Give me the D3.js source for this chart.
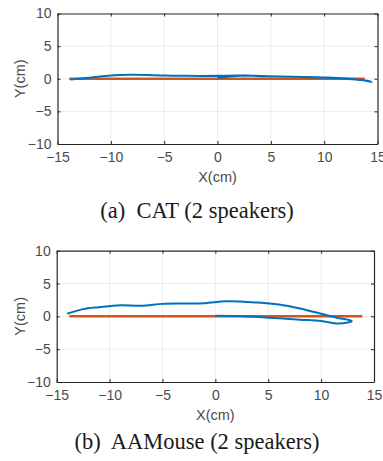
<!DOCTYPE html>
<html>
<head>
<meta charset="utf-8">
<script src="https://cdn.jsdelivr.net/npm/d3@7"></script>
<style>
  body { margin: 0; background: #fff; }
  svg { display: block; }
  .tick-label { font-family: "Liberation Sans", Arial, sans-serif; font-size: 14px; fill: #4a4a4a; }
  .axis-title { font-family: "Liberation Sans", Arial, sans-serif; font-size: 14.5px; fill: #4a4a4a; }
  .caption { font-family: "Liberation Serif", "Times New Roman", serif; font-size: 22.5px; fill: #1a1a1a; }
</style>
</head>
<body>
<div id="chart"></div>
<script>
// ticks shared by both panels
const xTicks = [-15, -10, -5, 0, 5, 10, 15];
const yTicks = [-10, -5, 0, 5, 10];

// (a) CAT: estimated trajectory and ground truth
const catEstimate = [
  [0, 0.15], [1, 0.3], [2.5, 0.5], [4, 0.4], [7, 0.3], [10, 0.15], [12, 0.0],
  [13.5, -0.2], [14.45, -0.5], [14, -0.3], [12, 0.05], [10, 0.2], [7, 0.3],
  [3.5, 0.45], [2, 0.5], [0, 0.45], [-3, 0.45], [-6, 0.55], [-8, 0.6],
  [-10, 0.5], [-12, 0.15], [-13.8, -0.1]
];
const catTruth = [[-13.9, 0], [13.8, 0]];

// (b) AAMouse
const aaEstimate = [
  [0, 0.1], [2, 0.05], [5, -0.2], [8, -0.5], [10, -0.7], [11.5, -1.1],
  [12.5, -0.95], [12.9, -0.7], [12.5, -0.5], [11.5, -0.2], [10, 0.4],
  [8, 1.2], [6, 1.8], [4, 2.1], [1, 2.3], [-1, 2.0], [-3, 1.95], [-5, 1.9],
  [-7, 1.6], [-9, 1.7], [-11, 1.4], [-12.5, 1.1], [-14, 0.4]
];
const aaTruth = [[-13.8, 0], [13.9, 0]];

const panels = [
  { box: { left: 57.5, right: 377.5, top: 13.5, bottom: 144 }, est: catEstimate, truth: catTruth,
    caption: '(a)\u00a0 CAT (2 speakers)', captionY: 218 },
  { box: { left: 56.7, right: 374, top: 250.7, bottom: 382 }, est: aaEstimate, truth: aaTruth,
    caption: '(b)\u00a0 AAMouse (2 speakers)', captionY: 449 }
];

const svg = d3.select('#chart').append('svg').attr('width', 383).attr('height', 461);

function drawPanel(p) {
  const b = p.box;
  const x = d3.scaleLinear().domain([-15, 15]).range([b.left, b.right]);
  const y = d3.scaleLinear().domain([-10, 10]).range([b.bottom, b.top]);
  const g = svg.append('g');

  // grid
  g.selectAll('line.gx').data(xTicks.slice(1, -1)).join('line')
    .attr('x1', d => x(d)).attr('x2', d => x(d)).attr('y1', b.top).attr('y2', b.bottom)
    .attr('stroke', '#ebebeb').attr('stroke-width', 1);
  g.selectAll('line.gy').data(yTicks.slice(1, -1)).join('line')
    .attr('y1', d => y(d)).attr('y2', d => y(d)).attr('x1', b.left).attr('x2', b.right)
    .attr('stroke', '#ebebeb').attr('stroke-width', 1);

  const line = d3.line().x(d => x(d[0])).y(d => y(d[1])).curve(d3.curveCatmullRom);

  g.append('path').attr('d', line(p.truth)).attr('fill', 'none')
    .attr('stroke', '#D95319').attr('stroke-width', 2.5);
  g.append('path').attr('d', line(p.est)).attr('fill', 'none')
    .attr('stroke', '#0072BD').attr('stroke-width', 2).attr('stroke-linejoin', 'round');

  // axes with inward ticks
  const bottomAxis = d3.axisBottom(x).tickValues(xTicks).tickSizeInner(-3).tickSizeOuter(0).tickPadding(8);
  const leftAxis = d3.axisLeft(y).tickValues(yTicks).tickSizeInner(-3).tickSizeOuter(0).tickPadding(6);
  const topAxis = d3.axisTop(x).tickValues(xTicks).tickSizeInner(-3).tickSizeOuter(0).tickFormat('');
  const rightAxis = d3.axisRight(y).tickValues(yTicks).tickSizeInner(-3).tickSizeOuter(0).tickFormat('');

  const axes = [
    g.append('g').attr('transform', `translate(0,${b.bottom})`).call(bottomAxis),
    g.append('g').attr('transform', `translate(${b.left},0)`).call(leftAxis),
    g.append('g').attr('transform', `translate(0,${b.top})`).call(topAxis),
    g.append('g').attr('transform', `translate(${b.right},0)`).call(rightAxis)
  ];
  axes.forEach(a => {
    a.select('.domain').attr('stroke', '#262626').attr('stroke-width', 1.2);
    a.selectAll('.tick line').attr('stroke', '#262626');
    a.selectAll('text').attr('class', 'tick-label').attr('fill', null);
  });

  g.append('text').attr('class', 'axis-title').attr('text-anchor', 'middle')
    .attr('x', (b.left + b.right) / 2).attr('y', b.bottom + 38).text('X(cm)');
  g.append('text').attr('class', 'axis-title').attr('text-anchor', 'middle')
    .attr('transform', `translate(25,${(b.top + b.bottom) / 2}) rotate(-90)`).text('Y(cm)');

  g.append('text').attr('class', 'caption').attr('text-anchor', 'middle')
    .attr('x', 197).attr('y', p.captionY).text(p.caption);
}

panels.forEach(drawPanel);
</script>
</body>
</html>
